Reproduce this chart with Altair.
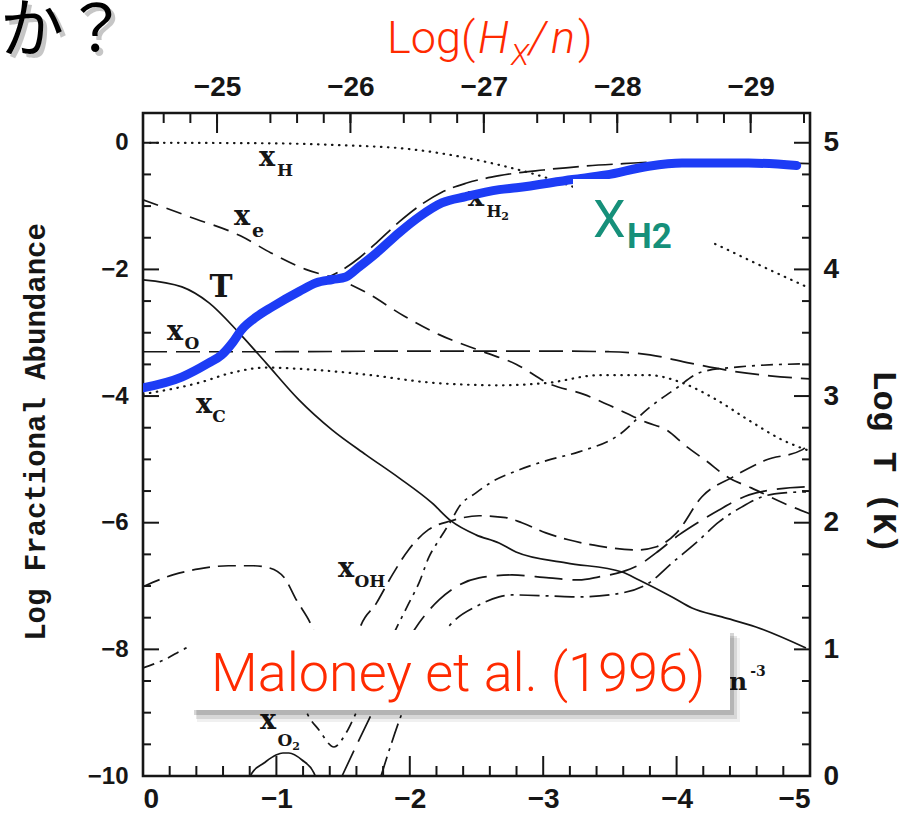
import altair as alt
import pandas as pd

OX, OY = 143, 113          # plot-area origin inside the 922x826 page
W, H = 667, 663            # plot-area size
INK = "#161616"
RED = "#ff2a00"
BLUE = "#1d3cf5"
GREEN = "#16907a"
TOP_SHIFT = 24.445         # Log(Hx/n) = x - TOP_SHIFT

# ---------------- data ----------------
# x = log N (0 ... -5), y = log fractional abundance
xH_x = [0, -1.0, -1.5, -2.0, -2.3, -2.67, -3.02, -3.6, -4.27, -4.62, -5.0]
xH_y = [0, -0.01, -0.04, -0.10, -0.19, -0.35, -0.55, -1.0, -1.58, -1.93, -2.30]

xe_x = [0, -0.35, -0.73, -0.96, -1.22, -1.47, -1.66, -1.96, -2.22, -2.55, -2.8, -3.04,
        -3.3, -3.5, -3.78, -3.92, -4.07, -4.22, -4.39, -4.56, -4.8, -5.0]
xe_y = [-0.9, -1.17, -1.47, -1.74, -2.0, -2.16, -2.35, -2.74, -3.03, -3.30, -3.5, -3.8,
        -3.97, -4.15, -4.42, -4.53, -4.79, -5.02, -5.29, -5.45, -5.69, -5.86]

xO_x = [0, -1, -2, -3, -3.5, -3.8, -4.1, -4.4, -4.7, -5.0]
xO_y = [-3.30, -3.30, -3.29, -3.29, -3.30, -3.35, -3.48, -3.60, -3.68, -3.73]

xC_x = [0, -0.42, -0.67, -0.92, -1.17, -1.67, -2.17, -2.67, -3.04, -3.42, -3.79, -4.04,
        -4.30, -4.54, -4.79, -5.0]
xC_y = [-3.97, -3.79, -3.63, -3.55, -3.57, -3.66, -3.79, -3.83, -3.79, -3.67, -3.67, -3.79,
        -4.06, -4.38, -4.69, -4.87]

# temperature, log T (K), right axis
T_x = [0, -0.292, -0.495, -0.720, -0.922, -1.169, -1.417, -1.672, -1.919, -2.166, -2.309,
       -2.496, -2.669, -2.796, -3.171, -3.591, -3.718, -3.966, -4.115, -4.340, -4.595, -4.970]
T_logK = [3.918, 3.862, 3.736, 3.499, 3.262, 2.970, 2.733, 2.536, 2.354, 2.156, 2.014,
          1.904, 1.840, 1.769, 1.683, 1.611, 1.548, 1.414, 1.327, 1.256, 1.177, 1.011]

xOH_x = [0, -0.23, -0.42, -0.64, -0.83, -0.94, -1.06, -1.15, -1.26, -1.38, -1.47, -1.55,
         -1.62, -1.75, -1.87, -1.99, -2.14, -2.31, -2.52, -2.72, -2.84, -3.02, -3.19, -3.42,
         -3.70, -3.85, -4.0, -4.19, -4.42, -4.67, -4.94, -4.97]
xOH_y = [-7.01, -6.82, -6.73, -6.68, -6.68, -6.71, -6.87, -7.22, -7.61, -8.3, -8.6, -8.3,
         -7.7, -7.27, -6.82, -6.43, -6.11, -5.97, -5.89, -5.92, -6.0, -6.16, -6.27, -6.37,
         -6.43, -6.38, -6.16, -5.59, -5.28, -5.01, -4.85, -4.80]

ld_x = [-1.492, -1.717, -2.069, -2.219, -2.346, -2.519, -2.766, -3.043, -3.268, -3.418,
        -3.591, -3.718, -3.846, -4.018, -4.168, -4.318, -4.543, -4.768, -4.970]
ld_y = [-10.0, -9.005, -7.583, -7.220, -7.014, -6.872, -6.825, -6.872, -6.904, -6.856,
        -6.777, -6.667, -6.477, -6.193, -5.987, -5.798, -5.561, -5.466, -5.434]

dd_x = [-1.784, -1.942, -2.316, -2.519, -2.669, -2.766, -3.043, -3.268, -3.591, -3.793,
        -3.966, -4.145, -4.318, -4.490, -4.640, -4.805, -4.970]
dd_y = [-10.0, -9.005, -7.583, -7.299, -7.172, -7.141, -7.156, -7.172, -7.109, -6.951,
        -6.635, -6.319, -5.987, -5.750, -5.592, -5.529, -5.513]

co_x = [0, -0.157, -0.345, -0.645, -0.885, -1.057, -1.169, -1.229, -1.319, -1.432, -1.522,
        -1.597, -1.769, -1.904, -1.994, -2.069, -2.144, -2.219, -2.309, -2.369, -2.496,
        -2.616, -2.819, -3.043, -3.268, -3.568, -3.793, -3.981, -4.190, -4.468, -4.955]
co_y = [-8.294, -8.167, -7.962, -7.852, -7.978, -8.294, -8.673, -9.005, -9.273, -9.542, -9.321,
        -9.005, -8.246, -7.646, -7.267, -6.951, -6.540, -6.272, -5.972, -5.750, -5.529,
        -5.355, -5.166, -5.008, -4.882, -4.613, -4.186, -3.902, -3.618, -3.539, -3.491]

xO2_x = [-0.79, -0.817, -0.907, -0.997, -1.049, -1.094, -1.192, -1.282, -1.31]
xO2_y = [-10.1, -9.953, -9.795, -9.668, -9.637, -9.637, -9.747, -9.953, -10.1]

xH2_x = [0, -0.29, -0.49, -0.67, -0.85, -1.17, -1.35, -1.5, -1.62, -1.75, -1.92, -2.07,
         -2.24, -2.42, -2.67, -3.0, -3.3, -3.6, -3.9, -4.3, -5.0]
xH2_y = [-3.87, -3.70, -3.48, -3.16, -2.75, -2.35, -2.16, -2.0, -1.82, -1.58, -1.25, -1.0,
         -0.78, -0.64, -0.52, -0.43, -0.37, -0.33, -0.30, -0.30, -0.33]

blue_x = [0, -0.29, -0.49, -0.59, -0.67, -0.74, -0.85, -0.97, -1.17, -1.30, -1.42, -1.52,
          -1.62, -1.75, -1.92, -2.07, -2.24, -2.42, -2.67, -2.80, -3.22, -3.47, -3.79, -4.04,
          -4.54, -4.90]
blue_y = [-3.87, -3.70, -3.48, -3.35, -3.16, -2.95, -2.75, -2.59, -2.35, -2.21, -2.16, -2.12,
          -1.96, -1.74, -1.42, -1.17, -0.95, -0.85, -0.74, -0.71, -0.58, -0.51, -0.37, -0.32,
          -0.32, -0.36]

# axis ticks / labels
bottom_major = [0, -1, -2, -3, -4, -5]
bottom_minor = [round(-0.2 * k, 1) for k in range(26) if k % 5]
top_labels = [-25, -26, -27, -28, -29]
top_minor_labels = [round(-24.6 - 0.2 * k, 1) for k in range(25) if (k + 2) % 5]
left_major = [0, -2, -4, -6, -8, -10]
left_minor = [-0.5 * k for k in range(21) if k % 4]

# ---------------- helpers ----------------
xs = alt.Scale(domain=[0, -5], nice=False, zero=False)
ys = alt.Scale(domain=[-10, 0.47], nice=False, zero=False)
ONE = pd.DataFrame({"k": [0]})


def frame(xv, yv):
    return pd.DataFrame({"x": xv, "y": yv, "i": list(range(len(xv)))})


def line(df, dash=None, width=1.7, color=INK, interp="monotone", cap="butt"):
    kw = dict(color=color, strokeWidth=width, clip=True, interpolate=interp, strokeCap=cap)
    if dash:
        kw["strokeDash"] = dash
    return alt.Chart(df).mark_line(**kw).encode(
        x=alt.X("x:Q", scale=xs, axis=None),
        y=alt.Y("y:Q", scale=ys, axis=None),
        order="i:Q",
    )


def txt(text, px, py, size, font="DejaVu Serif", weight="bold", style="normal",
        color=INK, align="center", baseline="middle", angle=0, opacity=1.0):
    return alt.Chart(ONE).mark_text(
        text=text, font=font, fontSize=size, fontWeight=weight, fontStyle=style,
        color=color, align=align, baseline=baseline, angle=angle, opacity=opacity,
    ).encode(x=alt.value(px - OX), y=alt.value(py - OY))


def rect(x1, y1, x2, y2, color, opacity=1.0):
    return alt.Chart(ONE).mark_rect(color=color, opacity=opacity).encode(
        x=alt.value(x1 - OX), x2=alt.value(x2 - OX),
        y=alt.value(y1 - OY), y2=alt.value(y2 - OY))


LABEL_FONT = "Liberation Sans"

# ---------------- curves ----------------
curves = [
    line(frame(xH_x, xH_y), dash=[0.5, 6.5], width=2.2, cap="round"),
    line(frame(xe_x, xe_y), dash=[16, 9]),
    line(frame(xO_x, xO_y), dash=[24, 9]),
    line(frame(xC_x, xC_y), dash=[0.5, 6.5], width=2.2, cap="round"),
    alt.Chart(pd.DataFrame({"x": T_x, "t": T_logK, "i": list(range(len(T_x)))}))
    .transform_calculate(y="2 * (datum.t - 5)")
    .mark_line(color=INK, strokeWidth=1.7, clip=True, interpolate="monotone")
    .encode(x=alt.X("x:Q", scale=xs, axis=None), y=alt.Y("y:Q", scale=ys, axis=None),
            order="i:Q"),
    line(frame(xOH_x, xOH_y), dash=[18, 8]),
    line(frame(ld_x, ld_y), dash=[28, 10]),
    line(frame(dd_x, dd_y), dash=[20, 6, 3, 6]),
    line(frame(co_x, co_y), dash=[12, 6, 3, 6]),
    line(frame(xO2_x, xO2_y)),
    line(frame(xH2_x, xH2_y), dash=[26, 8]),
]

# ---------------- inward ticks + axis labels ----------------
def xticks(values, length, top, axis):
    y1, y2 = (0, length) if top else (H, H - length)
    return alt.Chart(pd.DataFrame({"v": values})).mark_rule(color=INK, strokeWidth=2).encode(
        x=alt.X("v:Q", scale=xs, axis=axis), y=alt.value(y1), y2=alt.value(y2))


def yticks(values, length, right, axis):
    x1, x2 = (W, W - length) if right else (0, length)
    return alt.Chart(pd.DataFrame({"v": values})).mark_rule(color=INK, strokeWidth=2).encode(
        y=alt.Y("v:Q", scale=ys, axis=axis), x=alt.value(x1), x2=alt.value(x2))


axis_common = dict(ticks=False, tickSize=0, domain=False, grid=False, title=None,
                   labelFont=LABEL_FONT, labelFontWeight="bold", labelColor=INK)

top_major_x = [v + TOP_SHIFT for v in top_labels]
top_minor_x = [v + TOP_SHIFT for v in top_minor_labels]

tick_layers = [
    xticks(bottom_major, 20, False,
           alt.Axis(orient="bottom", values=bottom_major, format="d", labelFontSize=28,
                    labelPadding=9, **axis_common)),
    xticks(bottom_minor, 10, False, None),
    xticks(top_major_x, 20, True,
           alt.Axis(orient="top", values=top_major_x, labelFontSize=28, labelPadding=12,
                    labelExpr=f"format(datum.value - {TOP_SHIFT}, '.0f')", **axis_common)),
    xticks(top_minor_x, 10, True, None),
    yticks(left_major, 16, False,
           alt.Axis(orient="left", values=left_major, format="d", labelFontSize=24,
                    labelPadding=15, **axis_common)),
    yticks(left_minor, 8, False, None),
    yticks(left_major, 16, True,
           alt.Axis(orient="right", values=left_major, labelFontSize=28, labelPadding=13,
                    labelExpr="format(datum.value / 2 + 5, 'd')", **axis_common)),
    yticks(left_minor, 8, True, None),
]

# ---------------- curve labels (scan) ----------------
labels = [
    txt("x", 267, 158, 27), txt("H", 285, 171, 17),
    txt("x", 242, 217, 27), txt("e", 258, 231, 19),
    txt("T", 221, 288, 31),
    txt("x", 175, 332, 27), txt("O", 192, 344, 17),
    txt("x", 204, 405, 27), txt("C", 219, 417, 17),
    txt("x", 346, 569, 27), txt("OH", 370, 582, 17),
    txt("x", 268, 721, 27), txt("O", 285, 741, 17), txt("2", 296, 747, 11),
    txt("x", 476, 198, 27), txt("H", 494, 212, 16), txt("2", 505, 217, 11),
    txt("n", 738, 682, 25), txt("-3", 758, 672, 14),
]

blue = line(frame(blue_x, blue_y), width=9, color=BLUE, cap="round")

TF = "Roboto"
overlay = [
    rect(573, 179, 712, 262, "white"),
    txt("X", 593, 237, 52, font=TF, weight="normal", color=GREEN,
        align="left", baseline="alphabetic"),
    txt("H2", 627, 248, 35, font=TF, weight="bold", color=GREEN,
        align="left", baseline="alphabetic"),
    # Maloney box with soft shadow
    rect(197, 638, 740, 722, "#000000", 0.06),
    rect(196, 636, 737, 719, "#000000", 0.10),
    rect(194, 633, 734, 715, "#000000", 0.16),
    rect(192, 630, 730, 710, "white"),
    txt("Maloney et al. (1996)", 211, 691, 54, font=TF, weight=300, color=RED,
        align="left", baseline="alphabetic"),
    # top title Log(Hx/n)
    txt("Log(", 387, 53, 45, font=TF, weight=300, color=RED, align="left",
        baseline="alphabetic"),
    txt("H", 478, 53, 45, font=TF, weight=300, style="italic", color=RED,
        align="left", baseline="alphabetic"),
    txt("X", 511, 65, 30, font=TF, weight=300, style="italic", color=RED,
        align="left", baseline="alphabetic"),
    txt("/", 529, 53, 45, font=TF, weight=300, style="italic", color=RED,
        align="left", baseline="alphabetic"),
    txt("n", 551, 53, 45, font=TF, weight=300, style="italic", color=RED,
        align="left", baseline="alphabetic"),
    txt(")", 578, 53, 45, font=TF, weight=300, color=RED, align="left",
        baseline="alphabetic"),
    # Japanese fragment at top-left with shadow
    txt("か？", 132, 36, 64, font="Noto Sans CJK JP", weight="normal", color="#000000",
        align="right", opacity=0.22),
    txt("か？", 128, 32, 64, font="Noto Sans CJK JP", weight="normal", color="#000000",
        align="right"),
    # axis titles
    txt("Log Fractional Abundance", 36, 432, 29, font="Liberation Mono", angle=270),
    txt("Log T (K)", 884, 462, 34, font="Liberation Mono", angle=90),
]

chart = alt.layer(*curves, *tick_layers, *labels, blue, *overlay).resolve_axis(
    x="independent", y="independent"
).properties(
    width=W, height=H,
    padding={"left": OX, "top": OY, "right": 922 - OX - W, "bottom": 826 - OY - H},
    autosize=alt.AutoSizeParams(type="none"),
    background="white",
).configure_view(stroke=INK, strokeWidth=2.6)

chart.save("out.html", embed_options={"renderer": "svg", "actions": False})
